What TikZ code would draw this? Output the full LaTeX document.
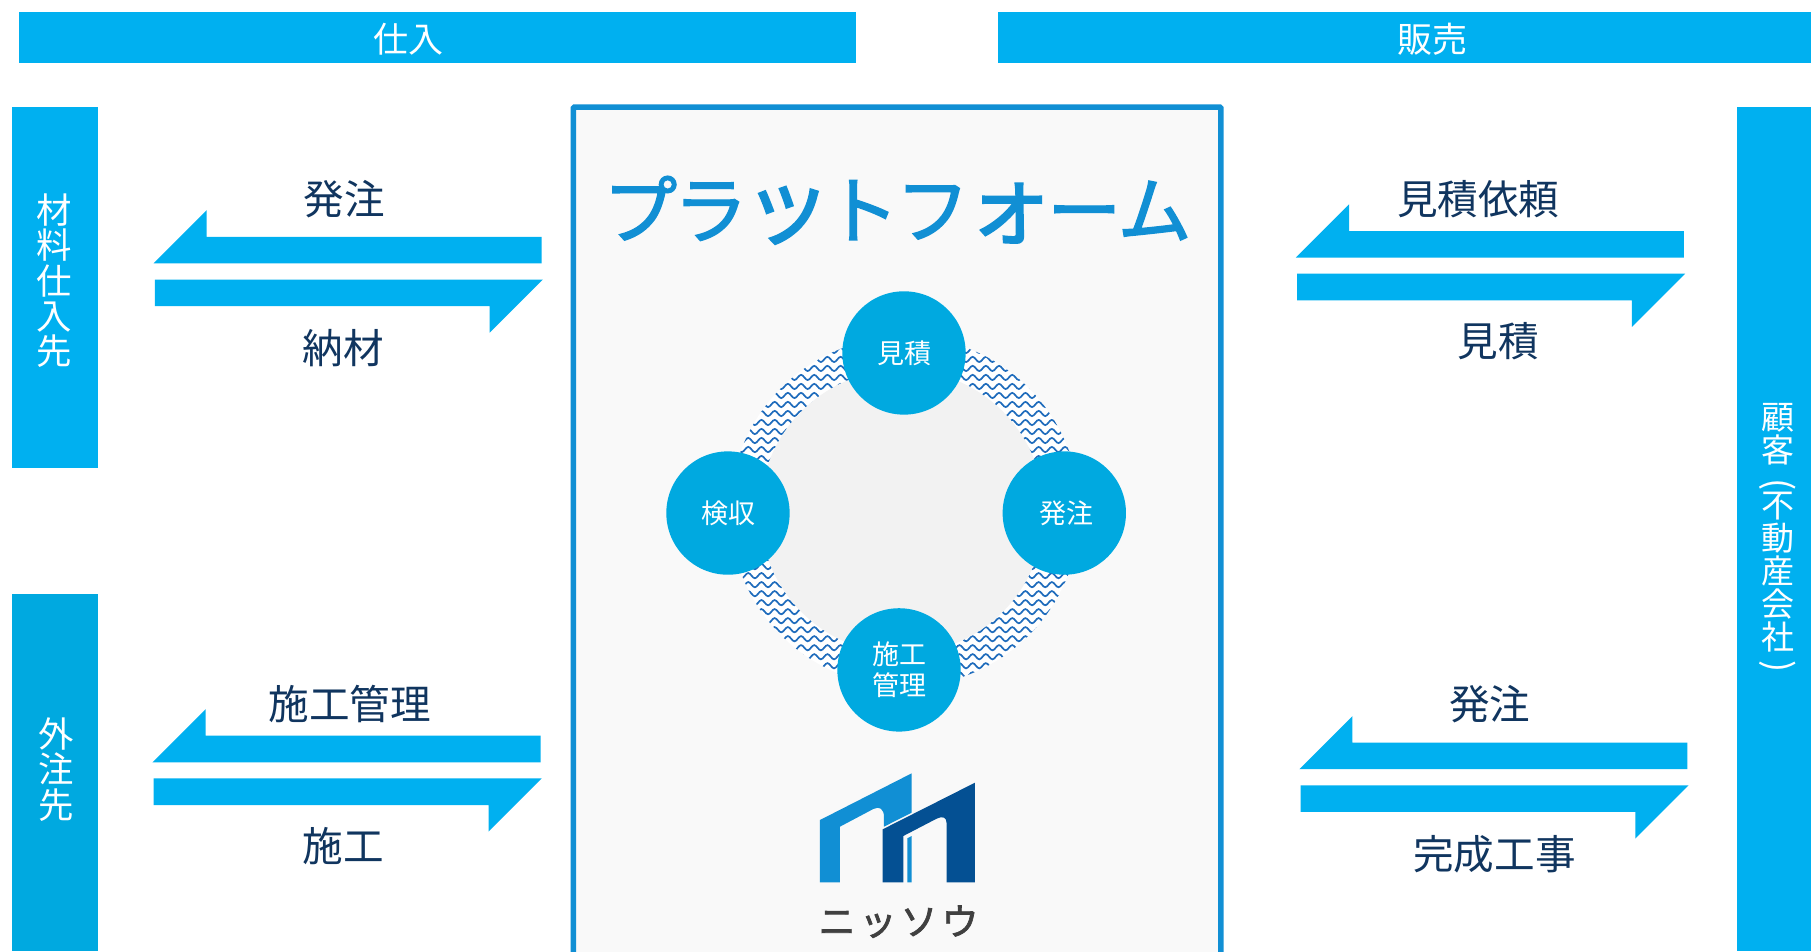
\documentclass[tikz,border=0pt]{standalone}
\usepackage{fontspec}
\usepackage{graphicx}
\setmainfont{Noto Sans CJK JP}
\usetikzlibrary{decorations.pathmorphing}
\definecolor{barblue}{HTML}{00B0F0}
\definecolor{boxblue}{HTML}{00A9E0}
\definecolor{frameblue}{HTML}{118FD4}
\definecolor{logodark}{HTML}{045093}
\definecolor{navytext}{HTML}{10355F}
\definecolor{wave}{HTML}{1F6CBC}
\newcommand{\pxsize}[1]{\fontsize{#1}{#1}\selectfont}
\newcommand{\stroked}[2]{\special{pdf:code 2 Tr #1 w}#2\special{pdf:code 0 Tr}}
\newcommand{\arrowpair}[3]{%
  \fill[barblue] (#1,#2) -- ++(46,-46) -- ++(0,23) -- ++(#3-46,0) -- ++(0,23) -- cycle;
  \fill[barblue] (#1+1,#2+14) -- ++(#3,0) -- ++(-46,46) -- ++(0,-23) -- ++(-#3+46,0) -- cycle;
}
\tikzset{
  topbar/.style={fill=barblue,draw=none},
  headtext/.style={text=white,font=\pxsize{17.5}},
  sidetext/.style={text=white,font=\pxsize{17.7},align=center,inner sep=0pt},
  flowtext/.style={text=navytext,font=\pxsize{20.3}},
  stepcircle/.style={circle,fill=boxblue,draw=none,minimum size=106.8*0.5775pt,inner sep=0pt,text=white,font=\pxsize{13.5},align=center},
}
\begin{document}
\begin{tikzpicture}[x=0.5775pt,y=-0.5775pt]
\useasboundingbox (0,0) rectangle (1568,823.4);
\fill[white] (0,0) rectangle (1568,823.4);
% top bars
\fill[topbar] (16.5,10) rectangle (741,54.5);
\fill[topbar] (864,10) rectangle (1568,54.5);
\node[headtext] (shiire) at (354,34) {仕入};
\node[headtext] (hanbai) at (1240,34) {販売};
% side boxes
\fill[barblue] (10,93) rectangle (85,405.5);
\fill[boxblue] (10,514) rectangle (85,823.4);
\fill[barblue] (1504,93) rectangle (1568,823.4);
\node[sidetext] (zairyo) at (47,243) {材\\料\\仕\\入\\先};
\node[sidetext] (gaichu) at (48.5,666) {外\\注\\先};
\node[sidetext,font=\pxsize{16.5}] (kokyaku) at (1539,468) {顧\\客\\\rotatebox[origin=c]{-90}{\pxsize{18}(}\\[-5.5pt]不\\動\\産\\会\\社\\[-2.5pt]\rotatebox[origin=c]{-90}{\pxsize{18})}};
% platform
\draw[frameblue,line width=2.8pt,fill=white!97.5!black,rounded corners=0.5pt] (496.5,92.7) rectangle (1057,830);
\node[text=frameblue,font=\pxsize{37}] (title) at (777,182) {\stroked{0.7}{プ\kern-1.8pt ラ\kern-2.3pt\scalebox{1.2}{ッ}\kern-3.3pt ト\kern-1.8pt フ\kern-2.3pt\scalebox{1.2}{ォ}\kern-3.3pt ー\kern-1.8pt ム}};
% ring
\begin{scope}
  \clip (783.5,443) circle (151.5);
  \fill[white] (783.5,443) circle (151.5);
  \foreach \r in {0,...,42} {
    \draw[wave,line width=0.85pt,decorate,decoration={snake,segment length=6.6pt,amplitude=1.3pt}]
      (610,{280+\r*7.8}) -- (960,{280+\r*7.8});
  }
\end{scope}
\fill[white!95!black] (781,443) circle (123);
\node[stepcircle] (mitsumori) at (782.7,305.6) {見積};
\node[stepcircle] (hatchu) at (921.5,444.2) {\hspace{2pt}発注};
\node[stepcircle] (sekou) at (778.4,580) {施工\\[2pt]管理};
\node[stepcircle] (kenshu) at (630.3,444.2) {\hspace{1pt}検収};
% logo
\begin{scope}[shift={(658,640.7)},x=0.16667pt,y=-0.16667pt]
  \fill[frameblue] (180,240) -- (455,100) -- (455,218) -- (372,260) -- (372,232)
     .. controls (372,205) and (358,198) .. (340,207) -- (240,260) -- (240,427) -- (180,427) -- cycle;
  \fill[logodark] (368,268) -- (645,128) -- (645,427) -- (560,427) -- (560,250)
     .. controls (560,232) and (548,227) .. (530,236) -- (430,288) -- (430,427) -- (368,427) -- cycle;
  \fill[frameblue] (442,295) -- (455,288) -- (455,427) -- (442,427) -- cycle;
\end{scope}
\node[text=black!75,font=\pxsize{18.5}] (logotext) at (778,798) {\stroked{0.35}{ニ\kern2pt ッ\kern2pt ソ\kern2pt ウ}};
% arrows
\arrowpair{133}{228}{336}
\arrowpair{132}{660}{336}
\arrowpair{1122}{223}{336}
\arrowpair{1125}{666}{336}
% labels
\node[flowtext] (a1) at (298,172.5) {発注};
\node[flowtext] (a2) at (297,301.5) {納材};
\node[flowtext] (a3) at (303,609.5) {施工管理};
\node[flowtext] (a4) at (297,732.5) {施工};
\node[flowtext] (a5) at (1280,172.5) {見積依頼};
\node[flowtext] (a6) at (1297,295.5) {見積};
\node[flowtext] (a7) at (1290,609.5) {発注};
\node[flowtext] (a8) at (1294,739.5) {完成工事};
\end{tikzpicture}
\end{document}
